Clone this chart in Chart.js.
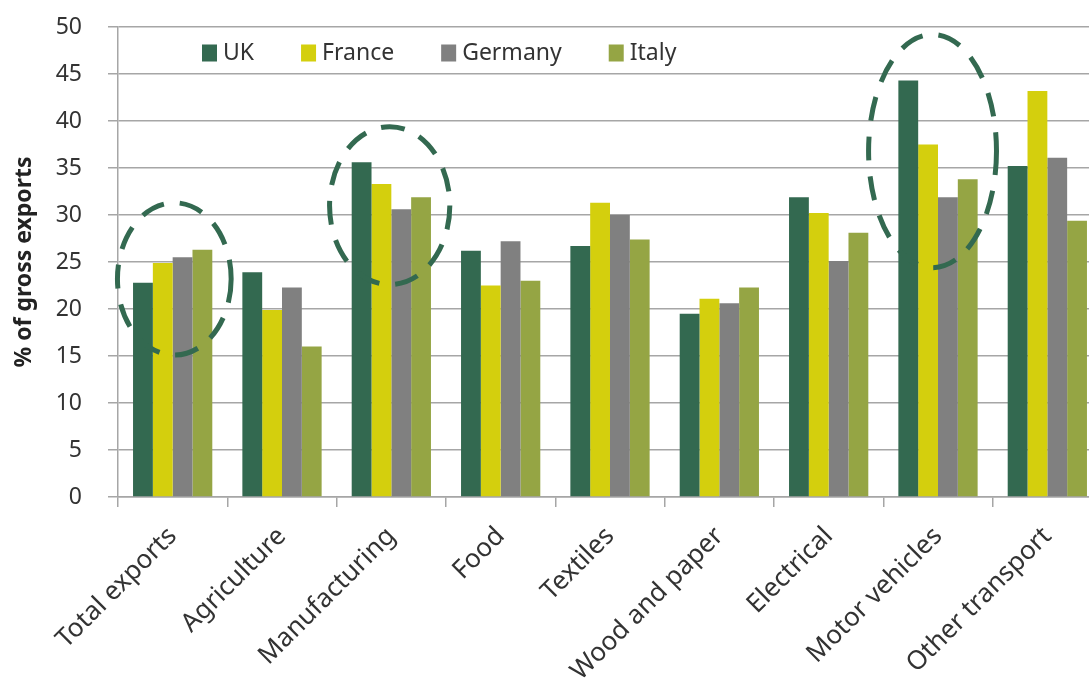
<!DOCTYPE html>
<html>
<head>
<meta charset="utf-8">
<script src="https://cdn.jsdelivr.net/npm/chart.js@4.4.0/dist/chart.umd.min.js"></script>
<style>
  html, body { margin: 0; padding: 0; background: #fff; overflow: hidden; }
  #wrap { position: absolute; left: 0; top: 0; width: 1102px; height: 679px; }
</style>
</head>
<body>
<div id="wrap"><canvas id="exportsChart" width="1102" height="679"></canvas></div>
<script>
// categories and series (% of gross exports)
var categories = ['Total exports', 'Agriculture', 'Manufacturing', 'Food', 'Textiles',
                  'Wood and paper', 'Electrical', 'Motor vehicles', 'Other transport'];
var ukValues      = [22.8, 23.9, 35.6, 26.2, 26.7, 19.5, 31.9, 44.3, 35.2];
var franceValues  = [24.9, 19.9, 33.3, 22.5, 31.3, 21.1, 30.2, 37.5, 43.2];
var germanyValues = [25.5, 22.3, 30.6, 27.2, 30.0, 20.6, 25.1, 31.9, 36.1];
var italyValues   = [26.3, 16.0, 31.9, 23.0, 27.4, 22.3, 28.1, 33.8, 29.4];
var yTicks = [0, 5, 10, 15, 20, 25, 30, 35, 40, 45, 50];

// dashed rings around the highlighted groups
var highlights = [
  { category: 0, value: 23.2 },
  { category: 2, value: 31.0 },
  { category: 7, value: 36.8 }
];
var ringSize = [ [0.52, 8.1, 0.015], [0.55, 8.4, -0.015], [0.585, 12.4, -0.05] ]; // rx (cat), ry (value), dx (cat)

var darkGreen = '#336950';
var font = "'Noto Sans', 'Open Sans', sans-serif";
var textColor = '#333333';

var ringPlugin = {
  id: 'rings',
  afterDatasetsDraw: function(chart) {
    var x = chart.scales.x, y = chart.scales.y;
    var catW = x.width / categories.length;
    var c = chart.ctx;
    c.save();
    c.strokeStyle = darkGreen;
    c.lineWidth = 5;
    c.setLineDash([24, 16]);
    highlights.forEach(function(h, i) {
      var s = ringSize[i];
      var cx = x.getPixelForValue(h.category) + s[2] * catW;
      var cy = y.getPixelForValue(h.value);
      var rx = s[0] * catW;
      var ry = Math.abs(y.getPixelForValue(0) - y.getPixelForValue(s[1]));
      c.beginPath();
      c.ellipse(cx, cy, rx, ry, 0, 0, Math.PI * 2);
      c.stroke();
    });
    c.restore();
  }
};

// legend sits inside the plot, in one row under the 50 line
var insideLegend = {
  id: 'insideLegend',
  afterDraw: function(chart) {
    var c = chart.ctx;
    var x = chart.chartArea.left + 84;
    var yMid = chart.chartArea.top + 26;
    c.save();
    c.font = '23px ' + font;
    c.textBaseline = 'middle';
    c.textAlign = 'left';
    chart.data.datasets.forEach(function(ds) {
      c.fillStyle = ds.backgroundColor;
      c.fillRect(x, yMid - 8.5, 15, 17);
      c.fillStyle = textColor;
      c.fillText(ds.label, x + 21, yMid);
      x += 21 + c.measureText(ds.label).width + 47;
    });
    c.restore();
  }
};

var ctx = document.getElementById('exportsChart').getContext('2d');
var chart = new Chart(ctx, {
  type: 'bar',
  data: {
    labels: categories,
    datasets: [
      { label: 'UK', data: ukValues, backgroundColor: darkGreen },
      { label: 'France', data: franceValues, backgroundColor: '#d4cf0d' },
      { label: 'Germany', data: germanyValues, backgroundColor: '#808080' },
      { label: 'Italy', data: italyValues, backgroundColor: '#95a544' }
    ]
  },
  options: {
    responsive: false,
    animation: false,
    layout: { padding: { top: 27, left: 0, right: 0, bottom: 0 } },
    datasets: { bar: { categoryPercentage: 0.725, barPercentage: 1.0 } },
    plugins: {
      legend: { display: false },
      tooltip: { enabled: false }
    },
    scales: {
      x: {
        afterFit: function(scale) { scale.height = 182; },
        grid: {
          display: true,
          drawOnChartArea: false,
          drawTicks: true,
          tickLength: 10,
          color: '#a6a6a6',
          lineWidth: 1.5
        },
        border: { display: true, color: '#a6a6a6', width: 1.5 },
        ticks: {
          autoSkip: false,
          minRotation: 45,
          maxRotation: 45,
          padding: 14,
          color: textColor,
          font: { family: font, size: 26 }
        }
      },
      y: {
        min: 0,
        max: 50,
        afterFit: function(scale) { scale.width = 118; },
        afterBuildTicks: function(scale) {
          scale.ticks = yTicks.map(function(v) { return { value: v }; });
        },
        grid: {
          color: '#a6a6a6',
          lineWidth: 1.5,
          borderDash: [5, 3],
          // long tick slot keeps labels away from the axis; only the last 10px is inked
          tickLength: 36,
          tickBorderDash: [0, 26, 10],
          tickColor: '#a6a6a6'
        },
        border: { display: true, color: '#a6a6a6', width: 1.5 },
        ticks: {
          padding: 0,
          color: textColor,
          font: { family: font, size: 23 }
        },
        title: {
          display: true,
          text: '% of gross exports',
          color: '#222222',
          padding: { top: 11, bottom: 0 },
          font: { family: font, size: 23, weight: 'bold' }
        }
      }
    }
  },
  plugins: [ringPlugin, insideLegend]
});
</script>
</body>
</html>
